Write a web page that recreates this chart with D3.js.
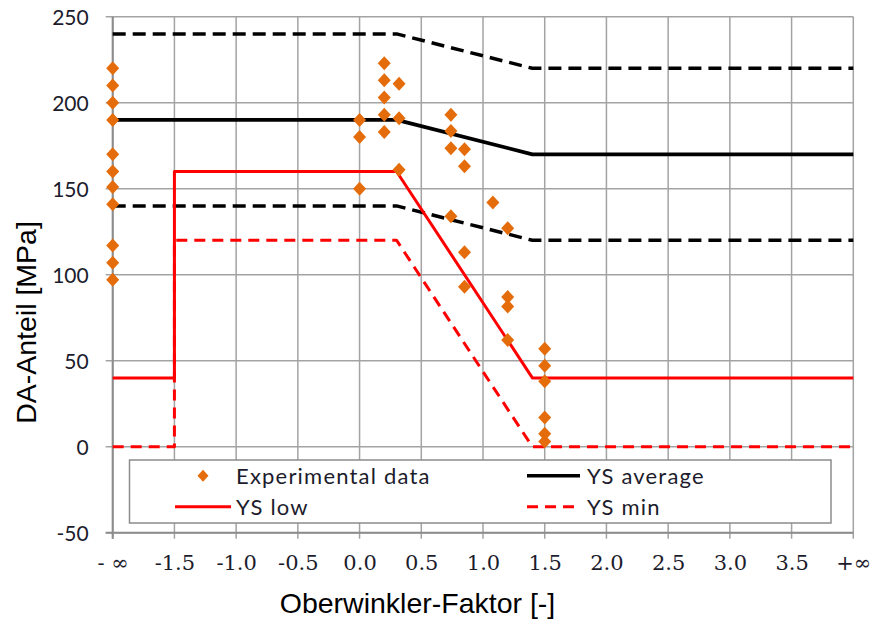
<!DOCTYPE html>
<html>
<head>
<meta charset="utf-8">
<script src="https://cdn.jsdelivr.net/npm/d3@7/dist/d3.min.js"></script>
<style>
  html, body { margin: 0; padding: 0; background: #fff; }
  svg { display: block; }
</style>
</head>
<body>
<svg id="chart" width="874" height="623"></svg>
<script>
// Axis ticks (x: -inf and +inf are placed at -2 and 4)
const xTickValues = [-2, -1.5, -1.0, -0.5, 0.0, 0.5, 1.0, 1.5, 2.0, 2.5, 3.0, 3.5, 4];
const xTickLabels = ["- \u221E", "-1.5", "-1.0", "-0.5", "0.0", "0.5", "1.0", "1.5", "2.0", "2.5", "3.0", "3.5", "+\u221E"];
const yTickValues = [-50, 0, 50, 100, 150, 200, 250];
const yTickLabels = ["-50", "0", "50", "100", "150", "200", "250"];

// Yield-strength curves
const ysBandX = [-2, 0.3, 1.4, 4];
const ysAverage = [190, 190, 170, 170];
const ysUpper = [240, 240, 220, 220];
const ysLower = [140, 140, 120, 120];

const ysStepX = [-2, -1.5, -1.5, 0.3, 1.4, 4];
const ysLow = [40, 40, 160, 160, 40, 40];
const ysMin = [0, 0, 120, 120, 0, 0];

// Experimental data
const expX = [
  -2, -2, -2, -2, -2, -2, -2, -2, -2, -2, -2,
  0, 0, 0,
  0.2, 0.2, 0.2, 0.2, 0.2,
  0.32, 0.32, 0.32,
  0.74, 0.74, 0.74, 0.74,
  0.85, 0.85, 0.85, 0.85,
  1.08,
  1.2, 1.2, 1.2, 1.2,
  1.5, 1.5, 1.5, 1.5, 1.5, 1.5
];
const expY = [
  220, 210, 200, 190, 170, 160, 151, 141, 117, 107, 97,
  190, 180, 150,
  223, 213, 203, 193, 183,
  211, 191, 161,
  193, 183.5, 173.5, 134,
  173, 163, 113, 93,
  142,
  127, 87, 81.5, 62,
  57, 47, 38, 17, 7.5, 3
];

const svg = d3.select("#chart");
const plotLeft = 112.7, plotRight = 853.3, plotTop = 16.7, plotBottom = 532.7;

const x = d3.scaleLinear().domain([-2, 4]).range([plotLeft, plotRight]);
const y = d3.scaleLinear().domain([-50, 250]).range([plotBottom, plotTop]);

const gridColor = "#a3a3a3";
const axisColor = "#8c8c8c";
const textColor = "#1c1c2c";

// Gridlines
const grid = svg.append("g");
grid.selectAll("line.v").data(xTickValues).join("line")
  .attr("x1", d => x(d)).attr("x2", d => x(d))
  .attr("y1", plotTop).attr("y2", plotBottom + 6)
  .attr("stroke", gridColor).attr("stroke-width", 1.5);
grid.selectAll("line.h").data(yTickValues).join("line")
  .attr("x1", plotLeft - 7).attr("x2", plotRight)
  .attr("y1", d => y(d)).attr("y2", d => y(d))
  .attr("stroke", gridColor).attr("stroke-width", 1.5);

// Axis lines
svg.append("line").attr("x1", plotLeft).attr("x2", plotLeft).attr("y1", plotTop).attr("y2", plotBottom + 6)
  .attr("stroke", axisColor).attr("stroke-width", 2);
svg.append("line").attr("x1", plotLeft - 7).attr("x2", plotRight).attr("y1", plotBottom).attr("y2", plotBottom)
  .attr("stroke", axisColor).attr("stroke-width", 2);

// Tick labels via d3 axes
const xAxis = d3.axisBottom(x).tickValues(xTickValues)
  .tickFormat((d, i) => xTickLabels[i]).tickSize(0).tickPadding(0);
const gx = svg.append("g").attr("transform", `translate(0,${plotBottom})`).call(xAxis);
gx.select(".domain").remove();
gx.selectAll("text")
  .attr("y", 37).attr("dy", null)
  .attr("font-family", "'DejaVu Serif', serif")
  .attr("font-size", 21).attr("fill", textColor);

const yAxis = d3.axisLeft(y).tickValues(yTickValues)
  .tickFormat((d, i) => yTickLabels[i]).tickSize(0).tickPadding(0);
const gy = svg.append("g").attr("transform", `translate(${plotLeft},0)`).call(yAxis);
gy.select(".domain").remove();
gy.selectAll("text")
  .attr("x", -24).attr("dy", "0.36em")
  .attr("font-family", "Lato, sans-serif")
  .attr("font-size", 21).attr("fill", textColor);

// Curves
const lineGen = d3.line().x(d => x(d[0])).y(d => y(d[1]));
const pairs = (xs, ys) => xs.map((v, i) => [v, ys[i]]);

function drawCurve(xs, ys, color, width, dash) {
  svg.append("path")
    .attr("d", lineGen(pairs(xs, ys)))
    .attr("fill", "none")
    .attr("stroke", color)
    .attr("stroke-width", width)
    .attr("stroke-dasharray", dash || null)
    .attr("stroke-linejoin", "round");
}

drawCurve(ysBandX, ysUpper, "#000", 3.5, "13,7");
drawCurve(ysBandX, ysLower, "#000", 3.5, "13,7");
drawCurve(ysBandX, ysAverage, "#000", 3.8);
drawCurve(ysStepX, ysMin, "#ff0000", 3, "11,7");
drawCurve(ysStepX, ysLow, "#ff0000", 3);

// Diamond markers
const diamond = "M0,-7 L6.5,0 L0,7 L-6.5,0 Z";
svg.append("g").selectAll("path").data(expX.map((v, i) => [v, expY[i]])).join("path")
  .attr("d", diamond)
  .attr("transform", d => `translate(${x(d[0])},${y(d[1])})`)
  .attr("fill", "#e46c0a");

// Legend
const lg = svg.append("g");
lg.append("rect").attr("x", 129.5).attr("y", 460).attr("width", 701.5).attr("height", 63)
  .attr("fill", "#fff").attr("stroke", "#8c8c8c").attr("stroke-width", 1.5);

function legendText(tx, ty, label) {
  lg.append("text").attr("x", tx).attr("y", ty).attr("dy", "0.36em")
    .attr("font-family", "Lato, sans-serif").attr("font-size", 22)
    .attr("letter-spacing", 1.2)
    .attr("fill", textColor).text(label);
}
lg.append("path").attr("d", "M0,-6 L5.5,0 L0,6 L-5.5,0 Z")
  .attr("transform", "translate(203,475.7)").attr("fill", "#e46c0a");
legendText(236, 475.7, "Experimental data");
lg.append("line").attr("x1", 175).attr("x2", 231).attr("y1", 506.7).attr("y2", 506.7)
  .attr("stroke", "#ff0000").attr("stroke-width", 3);
legendText(236, 506.7, "YS low");
lg.append("line").attr("x1", 527).attr("x2", 580).attr("y1", 475.7).attr("y2", 475.7)
  .attr("stroke", "#000").attr("stroke-width", 3.5);
legendText(587, 475.7, "YS average");
lg.append("line").attr("x1", 527).attr("x2", 577).attr("y1", 506.7).attr("y2", 506.7)
  .attr("stroke", "#ff0000").attr("stroke-width", 3).attr("stroke-dasharray", "11,7");
legendText(587, 506.7, "YS min");

// Axis titles
svg.append("text")
  .attr("x", 417.5).attr("y", 613)
  .attr("text-anchor", "middle")
  .attr("font-family", "'Liberation Sans', Arial, sans-serif")
  .attr("font-size", 28.5).attr("fill", "#000")
  .text("Oberwinkler-Faktor [-]");
svg.append("text")
  .attr("transform", "translate(36,322.5) rotate(-90)")
  .attr("text-anchor", "middle")
  .attr("font-family", "'Liberation Sans', Arial, sans-serif")
  .attr("font-size", 28.5).attr("fill", "#000")
  .text("DA-Anteil [MPa]");
</script>
</body>
</html>
